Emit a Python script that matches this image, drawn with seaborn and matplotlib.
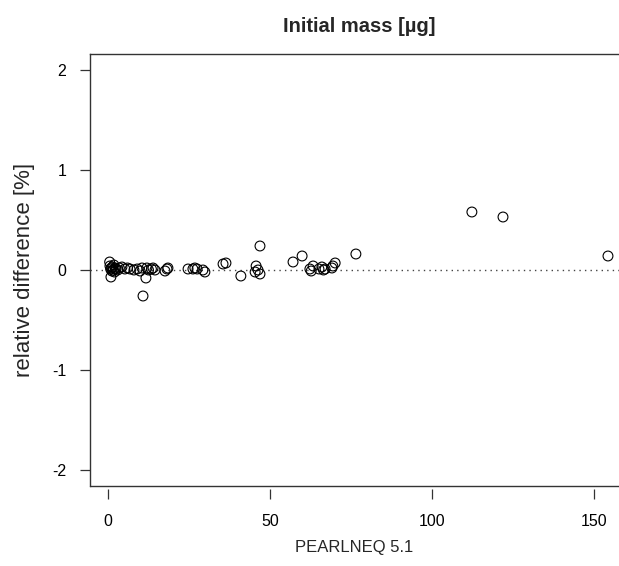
import numpy as np
import pandas as pd
import matplotlib
matplotlib.use("Agg")
import matplotlib.pyplot as plt
import seaborn as sns

# Data
pearlneq = [0.5, 0.6, 0.8, 0.9, 1.0, 1.2, 1.4, 1.6, 1.8, 2.0, 2.2, 2.5, 3.0, 3.5,
            4.3, 5.2, 6.0, 6.8, 8.0, 9.0, 9.9, 10.5, 10.8, 11.7, 12.0, 12.5,
            13.4, 13.9, 14.5, 17.6, 18.2, 18.5, 24.7, 26.2, 26.8, 27.5, 29.3,
            29.9, 35.5, 36.4, 41.0, 45.4, 45.7, 46.3, 46.9, 46.9, 57.1, 59.9,
            62.3, 62.7, 63.3, 65.1, 66.0, 66.5, 67.0, 69.1, 69.4, 70.1, 76.5,
            112.3, 121.9, 154.3]
rel_diff = [0.08, 0.04, 0.01, -0.07, 0.02, -0.01, 0.03, 0.00, 0.05, -0.02, 0.02,
            0.01, 0.00, 0.02, 0.03, 0.01, 0.02, 0.01, 0.00, 0.01, -0.01, 0.02,
            -0.26, -0.08, 0.02, 0.00, 0.01, 0.02, 0.00, -0.01, 0.01, 0.02, 0.01,
            0.01, 0.02, 0.01, 0.00, -0.02, 0.06, 0.07, -0.06, -0.02, 0.04, 0.00,
            0.24, -0.04, 0.08, 0.14, 0.01, -0.01, 0.04, 0.01, 0.03, 0.00, 0.01,
            0.02, 0.04, 0.07, 0.16, 0.58, 0.53, 0.14]
x_ticks = [0, 50, 100, 150]
y_ticks = [-2, -1, 0, 1, 2]

title = "Initial mass [µg]"
x_label = "PEARLNEQ 5.1"
y_label = "relative difference [%]"

sns.set_theme(style="white")
plt.rcParams['font.family'] = ['Liberation Sans', 'DejaVu Sans']
plt.rcParams['axes.unicode_minus'] = False

df = pd.DataFrame({"x": pearlneq, "y": rel_diff})

W, H = 619, 566
fig = plt.figure(figsize=(W / 100, H / 100), dpi=100)
left, right = 90 / W, 1.0
bottom, top = 1 - 486 / H, 1 - 54 / H
ax = fig.add_axes([left, bottom, right - left, top - bottom])

sns.scatterplot(data=df, x="x", y="y", ax=ax, marker="o", s=50,
                facecolors="none", edgecolor="black", linewidth=0.8,
                legend=False, zorder=3)

ax.axhline(0, color="#444444", lw=1.0, ls=(0, (1, 3)), zorder=2)

ax.set_xlim(-5.56, 157.7)
ax.set_ylim(-2.16, 2.16)
ax.set_xticks(x_ticks)
ax.set_yticks(y_ticks)
ax.set_xticklabels([str(t) for t in x_ticks])
ax.set_yticklabels([str(t) for t in y_ticks])

for side in ["top", "left", "bottom"]:
    ax.spines[side].set_visible(True)
    ax.spines[side].set_color("#333333")
    ax.spines[side].set_linewidth(1.0)
ax.spines["right"].set_visible(False)

ax.tick_params(axis="y", direction="out", length=7, width=0.9, color="#333333",
               labelsize=11.5, pad=10, left=True, labelcolor="black")
ax.tick_params(axis="x", direction="out", length=7.5, width=0.9, color="#333333",
               labelsize=11.5, pad=10, bottom=True, labelcolor="black")
# x ticks are detached from the box, as in the reference
ax.spines["bottom"].set_position(("outward", 2.5))
ax.spines["bottom"].set_visible(False)
ax.plot([0, 1], [0, 0], transform=ax.transAxes, color="#333333", lw=1.0,
        clip_on=False, zorder=5)

ax.set_xlabel(x_label, fontsize=12, labelpad=8)
ax.set_ylabel(y_label, fontsize=16, labelpad=12)
fig.text((90 + 628) / 2 / W, 1 - 27 / H, title, ha="center", va="center",
         fontsize=14.5, fontweight="bold")

fig.savefig("out.png", dpi=100)
